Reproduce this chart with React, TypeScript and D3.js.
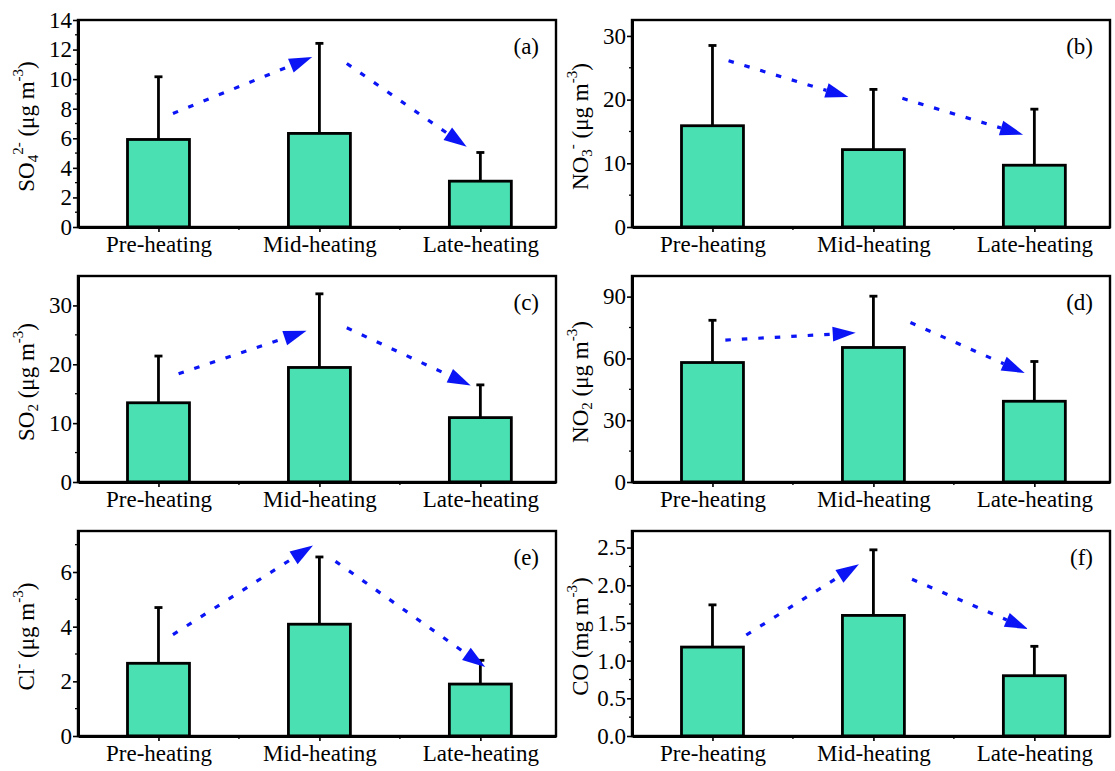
import { useEffect, useRef } from "react";
import * as d3 from "d3";

// categories shared by all six panels
const categories = ["Pre-heating", "Mid-heating", "Late-heating"];

// means and standard deviations
const so4Mean = [5.92, 6.33, 3.1];
const so4Sd = [4.24, 6.09, 1.94];
const no3Mean = [15.9, 12.15, 9.7];
const no3Sd = [12.6, 9.45, 8.8];
const so2Mean = [13.46, 19.46, 10.94];
const so2Sd = [7.94, 12.51, 5.56];
const no2Mean = [58, 65.3, 39.2];
const no2Sd = [20.5, 24.9, 19.3];
const clMean = [2.66, 4.09, 1.9];
const clSd = [2.04, 2.46, 0.87];
const coMean = [1.18, 1.6, 0.8];
const coSd = [0.56, 0.87, 0.39];

// trend arrows, [x1, y1, x2, y2] in (category index, value) units
const so4Arrows = [[1.09, 7.68, 1.955, 11.5], [2.17, 11.06, 2.915, 5.42]];
const no3Arrows = [[1.1, 26.1, 1.845, 20.4], [2.18, 20.2, 2.93, 14.5]];
const so2Arrows = [[1.125, 18.4, 1.92, 25.7], [2.17, 26.2, 2.94, 16.4]];
const no2Arrows = [[1.08, 68.9, 1.89, 72.4], [2.23, 77.4, 2.94, 52.9]];
const clArrows = [[1.09, 3.71, 1.96, 6.97], [2.1, 6.39, 3.03, 2.52]];
const coArrows = [[1.21, 1.34, 1.91, 2.28], [2.24, 2.08, 2.96, 1.42]];

// y axis tick values per panel
const so4Ticks = [0, 2, 4, 6, 8, 10, 12, 14];
const no3Ticks = [0, 10, 20, 30];
const so2Ticks = [0, 10, 20, 30];
const no2Ticks = [0, 30, 60, 90];
const clTicks = [0, 2, 4, 6];
const coTicks = [0, 0.5, 1, 1.5, 2, 2.5];

interface Panel {
	tag: string;
	mean: number[];
	sd: number[];
	arrows: number[][];
	ymax: number;
	ticks: number[];
	minorStep: number;
	fmt: string;
	title: [string, string, string]; // main, sub, sup
	unit: string;
	col: number;
	row: number;
}

const panels: Panel[] = [
	{ tag: "(a)", mean: so4Mean, sd: so4Sd, arrows: so4Arrows, ymax: 14, ticks: so4Ticks, minorStep: 1, fmt: "d", title: ["SO", "4", "2-"], unit: "μg", col: 0, row: 0 },
	{ tag: "(b)", mean: no3Mean, sd: no3Sd, arrows: no3Arrows, ymax: 32.5, ticks: no3Ticks, minorStep: 5, fmt: "d", title: ["NO", "3", "-"], unit: "μg", col: 1, row: 0 },
	{ tag: "(c)", mean: so2Mean, sd: so2Sd, arrows: so2Arrows, ymax: 35, ticks: so2Ticks, minorStep: 5, fmt: "d", title: ["SO", "2", ""], unit: "μg", col: 0, row: 1 },
	{ tag: "(d)", mean: no2Mean, sd: no2Sd, arrows: no2Arrows, ymax: 100, ticks: no2Ticks, minorStep: 15, fmt: "d", title: ["NO", "2", ""], unit: "μg", col: 1, row: 1 },
	{ tag: "(e)", mean: clMean, sd: clSd, arrows: clArrows, ymax: 7.5, ticks: clTicks, minorStep: 1, fmt: "d", title: ["Cl", "", "-"], unit: "μg", col: 0, row: 2 },
	{ tag: "(f)", mean: coMean, sd: coSd, arrows: coArrows, ymax: 2.72, ticks: coTicks, minorStep: 0.25, fmt: ".1f", title: ["CO", "", ""], unit: "mg", col: 1, row: 2 },
];

const colLeft = [78, 632];
const colRight = [556, 1110];
const rowTop = [20, 276, 531];
const rowBottom = [227, 482, 736];

const FONT = "'Liberation Serif', 'Times New Roman', serif";
const FS = 23;
const FS_SMALL = 15;
const BAR_FILL = "#4ae0b2";
const ARROW = "#0a14f5";

function drawPanel(root: d3.Selection<SVGSVGElement, unknown, null, undefined>, p: Panel) {
	const x0 = colLeft[p.col];
	const x1 = colRight[p.col];
	const y0 = rowTop[p.row];
	const y1 = rowBottom[p.row];

	const x = d3.scaleLinear().domain([0.5, 3.47]).range([x0, x1]);
	const y = d3.scaleLinear().domain([0, p.ymax]).range([y1, y0]);
	const bw = x(1.385) - x(1);

	const g = root.append("g");

	// bars
	g.selectAll("rect.bar")
		.data(p.mean)
		.enter()
		.append("rect")
		.attr("class", "bar")
		.attr("x", (_, i) => x(i + 1) - bw / 2)
		.attr("y", (d) => y(d))
		.attr("width", bw)
		.attr("height", (d) => y(0) - y(d))
		.attr("fill", BAR_FILL)
		.attr("stroke", "#000")
		.attr("stroke-width", 2.8);

	// error bars (upper only)
	p.mean.forEach((m, i) => {
		const cx = x(i + 1);
		const top = y(m + p.sd[i]);
		g.append("line")
			.attr("x1", cx).attr("x2", cx)
			.attr("y1", y(m)).attr("y2", top)
			.attr("stroke", "#000").attr("stroke-width", 2.8);
		g.append("line")
			.attr("x1", cx - 4).attr("x2", cx + 4)
			.attr("y1", top).attr("y2", top)
			.attr("stroke", "#000").attr("stroke-width", 2.8);
	});

	// frame
	g.append("rect")
		.attr("x", x0).attr("y", y0)
		.attr("width", x1 - x0).attr("height", y1 - y0)
		.attr("fill", "none")
		.attr("stroke", "#000")
		.attr("stroke-width", 2.4);

	// y axis
	const yAxis = g.append("g")
		.attr("transform", `translate(${x0},0)`)
		.call(d3.axisLeft(y).tickValues(p.ticks).tickSize(5).tickSizeOuter(0).tickPadding(1).tickFormat(d3.format(p.fmt) as any));
	yAxis.select(".domain").attr("stroke-width", 3);
	yAxis.selectAll("line").attr("stroke-width", 1.6);
	yAxis.selectAll("text").attr("font-family", FONT).attr("font-size", FS).attr("fill", "#000");

	const minors = d3.range(p.minorStep, p.ymax, p.minorStep).filter((v) => !p.ticks.some((t) => Math.abs(t - v) < 1e-6));
	g.selectAll("line.yminor")
		.data(minors)
		.enter()
		.append("line")
		.attr("x1", x0 - 3).attr("x2", x0)
		.attr("y1", (d) => y(d)).attr("y2", (d) => y(d))
		.attr("stroke", "#000").attr("stroke-width", 1.3);

	// x axis
	const xAxis = g.append("g")
		.attr("transform", `translate(0,${y1})`)
		.call(d3.axisBottom(x).tickValues([1, 2, 3]).tickSize(5).tickSizeOuter(0).tickPadding(4).tickFormat((d) => categories[(d as number) - 1]));
	xAxis.select(".domain").attr("stroke-width", 2.8);
	xAxis.selectAll("line").attr("stroke-width", 1.6);
	xAxis.selectAll("text").attr("font-family", FONT).attr("font-size", FS).attr("fill", "#000");

	g.selectAll("line.xminor")
		.data([1.5, 2.5])
		.enter()
		.append("line")
		.attr("x1", (d) => x(d)).attr("x2", (d) => x(d))
		.attr("y1", y1).attr("y2", y1 + 3)
		.attr("stroke", "#000").attr("stroke-width", 1.3);

	// panel tag
	g.append("text")
		.attr("x", x1 - 17)
		.attr("y", y0 + 34)
		.attr("text-anchor", "end")
		.attr("font-family", FONT)
		.attr("font-size", FS)
		.text(p.tag);

	// y title
	const cy = (y0 + y1) / 2 + 3;
	const t = g.append("text")
		.attr("transform", `translate(${x0 - 49},${cy}) rotate(-90)`)
		.attr("text-anchor", "middle")
		.attr("dominant-baseline", "middle")
		.attr("font-family", FONT)
		.attr("font-size", FS);
	const [main, sub, sup] = p.title;
	t.append("tspan").text(main);
	let shift = 0;
	if (sub) {
		t.append("tspan").attr("font-size", FS_SMALL).attr("dy", 6).text(sub);
		shift += 6;
	}
	if (sup) {
		const d = sub ? -15 : -9;
		t.append("tspan").attr("font-size", FS_SMALL).attr("dy", d).text(sup);
		shift += d;
	}
	t.append("tspan").attr("dy", -shift).text(` (${p.unit} m`);
	t.append("tspan").attr("font-size", FS_SMALL).attr("dy", -9).text("-3");
	t.append("tspan").attr("dy", 9).text(")");

	// trend arrows
	p.arrows.forEach(([ax1, ay1, ax2, ay2]) => {
		const sx = x(ax1), sy = y(ay1), ex = x(ax2), ey = y(ay2);
		const ang = Math.atan2(ey - sy, ex - sx);
		const len = 23, hw = 7.5;
		const bx = ex - len * Math.cos(ang), by = ey - len * Math.sin(ang);
		g.append("line")
			.attr("x1", sx).attr("y1", sy)
			.attr("x2", bx).attr("y2", by)
			.attr("stroke", ARROW)
			.attr("stroke-width", 3.2)
			.attr("stroke-dasharray", "5.5,11");
		const px = -Math.sin(ang), py = Math.cos(ang);
		g.append("path")
			.attr("d", `M${ex},${ey}L${bx + hw * px},${by + hw * py}L${bx - hw * px},${by - hw * py}Z`)
			.attr("fill", ARROW);
	});
}

export default function App() {
	const ref = useRef<SVGSVGElement>(null);

	useEffect(() => {
		if (!ref.current) return;
		const svg = d3.select(ref.current);
		svg.selectAll("*").remove();
		panels.forEach((p) => drawPanel(svg, p));
	}, []);

	return (
		<svg
			ref={ref}
			width={1115}
			height={771}
			style={{ position: "absolute", left: 0, top: 0, background: "#fff" }}
		/>
	);
}
